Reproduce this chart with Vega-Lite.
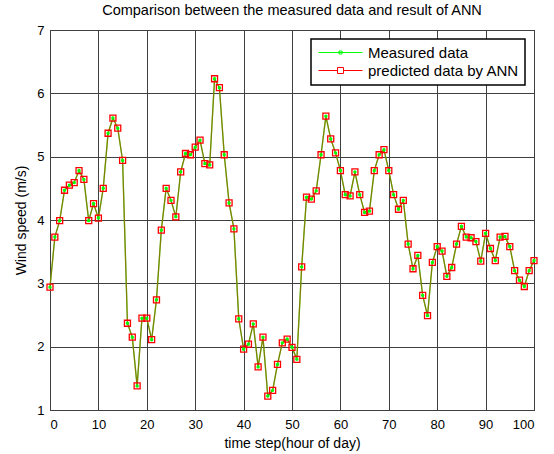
{
  "$schema": "https://vega.github.io/schema/vega-lite/v6.json",
  "width": 484,
  "height": 380,
  "autosize": {"type": "none"},
  "padding": {"left": 50, "top": 30, "right": 20, "bottom": 44},
  "background": "white",
  "title": {"text": "Comparison between the measured data and result of ANN", "fontSize": 14.5, "fontWeight": "normal", "font": "Liberation Sans", "offset": 6, "anchor": "middle", "color": "black"},
  "data": {"values": [
    {"t":0,"m":2.94,"p":2.94},{"t":1,"m":3.73,"p":3.73},{"t":2,"m":3.99,"p":3.99},{"t":3,"m":4.47,"p":4.47},{"t":4,"m":4.55,"p":4.55},
    {"t":5,"m":4.59,"p":4.59},{"t":6,"m":4.78,"p":4.78},{"t":7,"m":4.64,"p":4.64},{"t":8,"m":3.99,"p":3.99},{"t":9,"m":4.26,"p":4.26},
    {"t":10,"m":4.03,"p":4.03},{"t":11,"m":4.5,"p":4.5},{"t":12,"m":5.37,"p":5.37},{"t":13,"m":5.61,"p":5.61},{"t":14,"m":5.45,"p":5.45},
    {"t":15,"m":4.94,"p":4.94},{"t":16,"m":2.37,"p":2.37},{"t":17,"m":2.15,"p":2.15},{"t":18,"m":1.38,"p":1.38},{"t":19,"m":2.45,"p":2.45},
    {"t":20,"m":2.45,"p":2.45},{"t":21,"m":2.11,"p":2.11},{"t":22,"m":2.74,"p":2.74},{"t":23,"m":3.84,"p":3.84},{"t":24,"m":4.5,"p":4.5},
    {"t":25,"m":4.31,"p":4.31},{"t":26,"m":4.05,"p":4.05},{"t":27,"m":4.76,"p":4.76},{"t":28,"m":5.05,"p":5.05},{"t":29,"m":5.03,"p":5.03},
    {"t":30,"m":5.15,"p":5.15},{"t":31,"m":5.26,"p":5.26},{"t":32,"m":4.89,"p":4.89},{"t":33,"m":4.87,"p":4.87},{"t":34,"m":6.23,"p":6.23},
    {"t":35,"m":6.09,"p":6.09},{"t":36,"m":5.03,"p":5.03},{"t":37,"m":4.27,"p":4.27},{"t":38,"m":3.86,"p":3.86},{"t":39,"m":2.44,"p":2.44},
    {"t":40,"m":1.96,"p":1.96},{"t":41,"m":2.04,"p":2.04},{"t":42,"m":2.36,"p":2.36},{"t":43,"m":1.68,"p":1.68},{"t":44,"m":2.15,"p":2.15},
    {"t":45,"m":1.22,"p":1.22},{"t":46,"m":1.31,"p":1.31},{"t":47,"m":1.72,"p":1.72},{"t":48,"m":2.06,"p":2.06},{"t":49,"m":2.12,"p":2.12},
    {"t":50,"m":1.99,"p":1.99},{"t":51,"m":1.8,"p":1.8},{"t":52,"m":3.26,"p":3.26},{"t":53,"m":4.36,"p":4.36},{"t":54,"m":4.33,"p":4.33},
    {"t":55,"m":4.46,"p":4.46},{"t":56,"m":5.03,"p":5.03},{"t":57,"m":5.64,"p":5.64},{"t":58,"m":5.28,"p":5.28},{"t":59,"m":5.06,"p":5.06},
    {"t":60,"m":4.78,"p":4.78},{"t":61,"m":4.4,"p":4.4},{"t":62,"m":4.38,"p":4.38},{"t":63,"m":4.76,"p":4.76},{"t":64,"m":4.4,"p":4.4},
    {"t":65,"m":4.12,"p":4.12},{"t":66,"m":4.14,"p":4.14},{"t":67,"m":4.78,"p":4.78},{"t":68,"m":5.03,"p":5.03},{"t":69,"m":5.11,"p":5.11},
    {"t":70,"m":4.78,"p":4.78},{"t":71,"m":4.4,"p":4.4},{"t":72,"m":4.17,"p":4.17},{"t":73,"m":4.31,"p":4.31},{"t":74,"m":3.62,"p":3.62},
    {"t":75,"m":3.23,"p":3.23},{"t":76,"m":3.44,"p":3.44},{"t":77,"m":2.81,"p":2.81},{"t":78,"m":2.49,"p":2.49},{"t":79,"m":3.33,"p":3.33},
    {"t":80,"m":3.58,"p":3.58},{"t":81,"m":3.51,"p":3.51},{"t":82,"m":3.11,"p":3.11},{"t":83,"m":3.25,"p":3.25},{"t":84,"m":3.62,"p":3.62},
    {"t":85,"m":3.9,"p":3.9},{"t":86,"m":3.73,"p":3.73},{"t":87,"m":3.72,"p":3.72},{"t":88,"m":3.66,"p":3.66},{"t":89,"m":3.35,"p":3.35},
    {"t":90,"m":3.79,"p":3.79},{"t":91,"m":3.55,"p":3.55},{"t":92,"m":3.36,"p":3.36},{"t":93,"m":3.73,"p":3.73},{"t":94,"m":3.74,"p":3.74},
    {"t":95,"m":3.58,"p":3.58},{"t":96,"m":3.2,"p":3.2},{"t":97,"m":3.05,"p":3.05},{"t":98,"m":2.95,"p":2.95},{"t":99,"m":3.2,"p":3.2},
    {"t":100,"m":3.36,"p":3.36}
  ]},
  "transform": [{"fold": ["m", "p"], "as": ["s", "v"]}],
  "encoding": {
    "x": {"field": "t", "type": "quantitative", "scale": {"domain": [0, 100], "nice": false},
      "axis": {"title": "time step(hour of day)", "values": [0,10,20,30,40,50,60,70,80,90,100], "labelPadding": 8, "titlePadding": 5}},
    "y": {"field": "v", "type": "quantitative", "scale": {"domain": [1, 7], "nice": false, "zero": false},
      "axis": {"title": "Wind speed (m/s)", "values": [1,2,3,4,5,6,7], "labelPadding": 6, "titlePadding": 8}}
  },
  "layer": [
    {"transform": [{"filter": "datum.s == 'm'"}], "mark": {"type": "line", "color": "#00ff00", "strokeWidth": 1.3}},
    {"transform": [{"filter": "datum.s == 'p'"}], "mark": {"type": "line", "color": "#ff0000", "strokeWidth": 1.3, "opacity": 0.5}},
    {
      "transform": [{"filter": "datum.s == 'p'"}],
      "mark": {"type": "point", "shape": "square", "filled": false, "size": 36, "strokeWidth": 1.3, "color": "#ff0000", "opacity": 1}
    },
    {
      "transform": [{"filter": "datum.s == 'm'"}],
      "mark": {"type": "point", "shape": "circle", "filled": true, "size": 12, "color": "#00ff00", "opacity": 1}
    },
    {
      "mark": {"type": "point", "filled": false, "size": 0, "strokeWidth": 0},
      "encoding": {
        "color": {"field": "s", "type": "nominal", "scale": {"domain": ["m", "p"], "range": ["#00ff00", "#ff0000"]},
          "legend": {
            "title": null,
            "orient": "top-right",
            "offset": 9,
            "symbolOpacity": 1,
            "symbolStrokeWidth": 1,
            "symbolType": {"expr": "datum.value == 'm' ? 'M-1,0H6.33M2.42,-0.25H2.92V0.25H2.42Z' : 'M-1,0H2.17M3.17,0H6.33M2.17,-0.5H3.17V0.5H2.17Z'"},
            "labelExpr": "datum.label == 'm' ? 'Measured data' : 'predicted data by ANN'",
            "encode": {
              "symbols": {
                "strokeWidth": {"value": 1},
                "size": {"value": 144}
              }
            }
          }}
      }
    }
  ],
  "config": {
    "view": {"stroke": "black", "strokeWidth": 1},
    "axis": {"labelFont": "Liberation Sans", "titleFont": "Liberation Sans", "labelFontSize": 13, "titleFontSize": 14, "titleFontWeight": "normal", "labelColor": "black", "titleColor": "black", "gridColor": "#404040", "gridOpacity": 1, "gridWidth": 1, "domain": false, "ticks": false},
    "legend": {"labelFont": "Liberation Sans", "labelFontSize": 15, "labelColor": "black", "labelOffset": 36, "symbolSize": 144, "rowPadding": 2, "padding": 6, "strokeColor": "black", "fillColor": "white", "strokeWidth": 1.5}
  }
}
